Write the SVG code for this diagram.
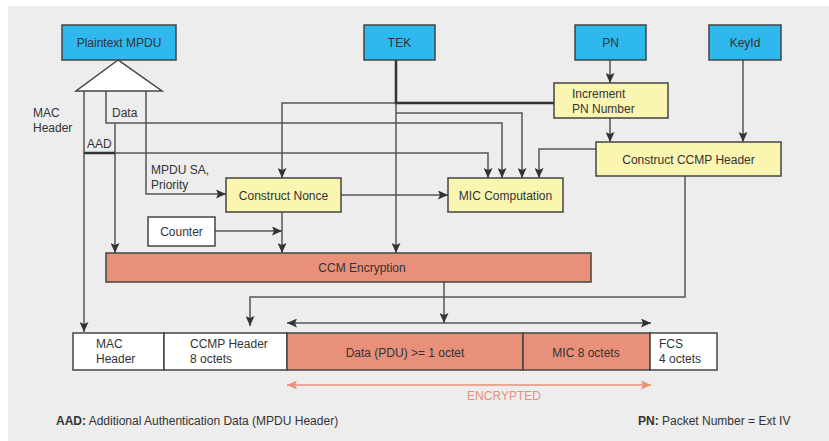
<svg xmlns="http://www.w3.org/2000/svg" width="829" height="441" viewBox="0 0 829 441">
<defs>
<marker id="ah" markerUnits="userSpaceOnUse" markerWidth="10" markerHeight="9" refX="10" refY="4.5" orient="auto-start-reverse">
<path d="M0,0 L10,4.5 L0,9 L2,4.5 z" fill="#333"/>
</marker>
<marker id="ahs" markerUnits="userSpaceOnUse" markerWidth="10" markerHeight="9" refX="10" refY="4.5" orient="auto-start-reverse">
<path d="M0,0 L10,4.5 L0,9 L2,4.5 z" fill="#e8907a"/>
</marker>
<style>
text{font-family:"Liberation Sans",Arial,sans-serif;font-size:12px;fill:#333}
.c{text-anchor:middle}
.blue{fill:#2fb8ee;stroke:#444;stroke-width:1.5}
.yel{fill:#fbf5b2;stroke:#444;stroke-width:1.5}
.sal{fill:#e8907a;stroke:#444;stroke-width:1.5}
.wht{fill:#fff;stroke:#444;stroke-width:1.5}
.ln{fill:none;stroke:#555;stroke-width:1.5}
.tk{fill:none;stroke:#333;stroke-width:2.5}
.ar{marker-end:url(#ah)}
.da{marker-start:url(#ah);marker-end:url(#ah)}
</style>
</defs>
<rect x="8" y="6" width="821" height="435" fill="#ecedec"/>

<g id="connectors">
<path class="ln ar" d="M84,91 V332"/>
<path class="ln ar" d="M106,91 V123 H502 V178"/>
<path class="ln ar" d="M115,123 V253"/>
<path class="ln ar" d="M84,153 H488 V178"/>
<path class="tk" d="M84,153 H115"/>
<path class="ln ar" d="M146,91 V194 H226"/>
<path class="ln ar" d="M396,103 V253"/>
<path class="ln ar" d="M396,103 H282 V178"/>
<path class="tk" d="M396,60 V103 H554"/>
<path class="ln ar" d="M396,113 H522 V178"/>
<path class="ln ar" d="M610,60 V83"/>
<path class="ln ar" d="M610,118 V142"/>
<path class="ln ar" d="M743,60 V142"/>
<path class="ln ar" d="M596,149 H539 V178"/>
<path class="ln ar" d="M341,195 H448"/>
<path class="ln ar" d="M282,212 V253"/>
<path class="ln ar" d="M215,231 H282"/>
<path class="ln ar" d="M444,282 V323"/>
<path class="ln da" d="M287,323 H651"/>
<path class="ln ar" d="M685,176 V297 H250 V326"/>
<path fill="none" stroke="#e8907a" stroke-width="1.5" marker-start="url(#ahs)" marker-end="url(#ahs)" d="M287,385 H651"/>
</g>

<g id="plaintext-mpdu">
<rect class="blue" x="62" y="25" width="114" height="35"/>
<text class="c" x="119" y="47">Plaintext MPDU</text>
<polygon points="118,60 76,91 162,91" fill="#fff" stroke="#444" stroke-width="1.5"/>
</g>
<g id="tek"><rect class="blue" x="364" y="25" width="71" height="35"/><text class="c" x="399.5" y="47">TEK</text></g>
<g id="pn"><rect class="blue" x="575" y="25" width="71" height="35"/><text class="c" x="610.5" y="47">PN</text></g>
<g id="keyid"><rect class="blue" x="709" y="25" width="72" height="35"/><text class="c" x="745" y="47">KeyId</text></g>
<g id="increment-pn"><rect class="yel" x="554" y="83" width="114" height="35"/><text x="572" y="98">Increment</text><text x="572" y="113">PN Number</text></g>
<g id="construct-ccmp-header"><rect class="yel" x="596" y="142" width="185" height="34"/><text class="c" x="688.5" y="164">Construct CCMP Header</text></g>
<g id="construct-nonce"><rect class="yel" x="226" y="178" width="115" height="34"/><text class="c" x="283.5" y="200">Construct Nonce</text></g>
<g id="mic-computation"><rect class="yel" x="448" y="178" width="115" height="34"/><text class="c" x="505.5" y="200">MIC Computation</text></g>
<g id="counter"><rect class="wht" x="148" y="217" width="67" height="29"/><text class="c" x="181.5" y="236">Counter</text></g>
<g id="ccm-encryption"><rect class="sal" x="106" y="253" width="485" height="29"/><text class="c" x="362" y="272">CCM Encryption</text></g>

<g id="labels">
<text x="33" y="117">MAC</text><text x="33" y="132">Header</text>
<text x="112" y="117">Data</text>
<text x="87" y="148">AAD</text>
<text x="151" y="174">MPDU SA,</text><text x="151" y="189">Priority</text>
</g>

<g id="frame">
<g id="f-mac"><rect class="wht" x="73" y="333" width="91" height="37"/><text x="96" y="348">MAC</text><text x="96" y="363">Header</text></g>
<g id="f-ccmp"><rect class="wht" x="164" y="333" width="123" height="37"/><text x="190" y="348">CCMP Header</text><text x="190" y="363">8 octets</text></g>
<g id="f-data"><rect class="sal" x="287" y="333" width="236" height="37"/><text class="c" x="405" y="357">Data (PDU) &gt;= 1 octet</text></g>
<g id="f-mic"><rect class="sal" x="523" y="333" width="127" height="37"/><text class="c" x="586" y="357">MIC 8 octets</text></g>
<g id="f-fcs"><rect class="wht" x="650" y="333" width="67" height="37"/><text x="659" y="348">FCS</text><text x="659" y="363">4 octets</text></g>
</g>

<text class="c" x="504" y="400" style="fill:#e8907a">ENCRYPTED</text>
<text x="56" y="425"><tspan font-weight="bold">AAD:</tspan> Additional Authentication Data (MPDU Header)</text>
<text x="638" y="425"><tspan font-weight="bold">PN:</tspan> Packet Number = Ext IV</text>
</svg>
